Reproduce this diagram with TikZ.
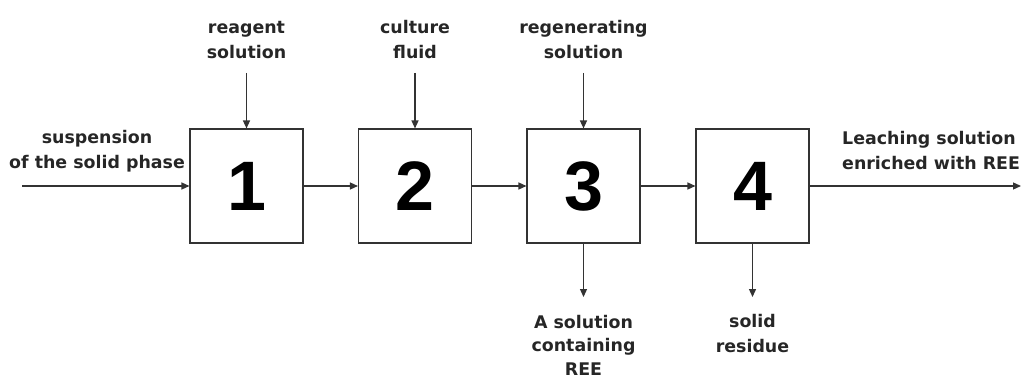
\documentclass[tikz,border=0pt]{standalone}
\usepackage{fontspec}
\setmainfont{DejaVu Sans}
\newfontfamily\numfont{Liberation Sans}
\usetikzlibrary{arrows.meta}
\begin{document}
\begin{tikzpicture}[x=1pt,y=-1pt,
  stage/.style={draw=black!80,line width=1.1pt,minimum width=113pt,minimum height=114pt,inner sep=0pt,
    font=\numfont\fontsize{70}{70}\selectfont\bfseries},
  lbl/.style={align=center,inner sep=0pt,font=\fontsize{17.4}{25}\selectfont\bfseries,text=black!85},
  flow/.style={draw=black!80,line width=1.3pt,-{Triangle[length=8pt,width=7pt]}}]
\useasboundingbox (0,0) rectangle (1022,379);
\clip (0,0) rectangle (1022,379);
\node[stage] (b1) at (246.5,186) {1};
\node[stage] (b2) at (415,186) {2};
\node[stage] (b3) at (583.5,186) {3};
\node[stage] (b4) at (752.5,186) {4};
% labels
\node[lbl] (t1) at (246.5,40) {reagent\\solution};
\node[lbl] (t2) at (415,40) {culture\\fluid};
\node[lbl] (t3) at (583.5,40) {regenerating\\solution};
\node[lbl] (lin) at (97,151) {suspension\\of the solid phase};
\node[lbl,align=left,anchor=west] (lout) at (842,151) {Leaching solution\\enriched with REE};
\node[lbl,font=\fontsize{17.4}{23.5}\selectfont\bfseries] (d3) at (583.5,345) {A solution\\containing\\REE};
\node[lbl] (d4) at (752.5,334) {solid\\residue};
% connector ends
\coordinate (inS) at (22,186);
\coordinate (outE) at (1021,186);
\coordinate (a1) at (246.5,73);
\coordinate (a2) at (415,73);
\coordinate (a3) at (583.5,73);
\coordinate (e3) at (583.5,297);
\coordinate (e4) at (752.5,297);
% flows
\draw[flow] (inS) -- (b1.west);
\draw[flow] (b1) -- (b2);
\draw[flow] (b2) -- (b3);
\draw[flow] (b3) -- (b4);
\draw[flow] (b4.east) -- (outE);
\draw[flow] (a1) -- (b1.north);
\draw[flow] (a2) -- (b2.north);
\draw[flow] (a3) -- (b3.north);
\draw[flow] (b3.south) -- (e3);
\draw[flow] (b4.south) -- (e4);
\end{tikzpicture}
\end{document}
